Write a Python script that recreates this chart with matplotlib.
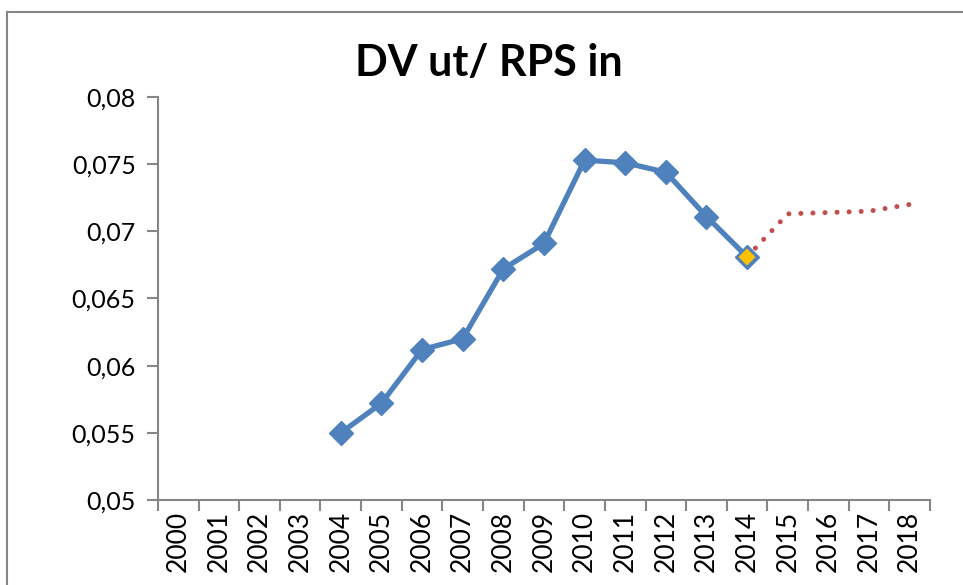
import matplotlib
matplotlib.use("Agg")
import numpy as np
from matplotlib import pyplot as plt
from matplotlib.lines import Line2D

# data
years = [str(y) for y in range(2000, 2019)]
actual_years = list(range(2004, 2015))
actual_values = [0.0550, 0.0572, 0.0612, 0.0620, 0.0672, 0.0691,
                 0.0753, 0.0751, 0.0744, 0.0711, 0.0681]
forecast_years = [2014, 2015, 2016, 2017, 2018]
forecast_values = [0.0681, 0.0713, 0.0714, 0.0715, 0.0720]
highlight_year = 2014
highlight_value = 0.0681
y_ticks = [0.05, 0.055, 0.06, 0.065, 0.07, 0.075, 0.08]

plt.rcParams["font.family"] = ["Lato", "DejaVu Sans"]
axis_color = "#868686"

fig = plt.figure(figsize=(9.63, 5.85), dpi=100)
ax = fig.add_axes([0.164, 0.1453, 0.8017, 0.6889])

x_actual = [years.index(str(y)) for y in actual_years]
x_forecast = [years.index(str(y)) for y in forecast_years]

ax.plot(x_forecast, forecast_values, color="#C0504D", linewidth=3.6,
        linestyle=(0, (0.01, 2.4)), dash_capstyle="round", zorder=2)
ax.plot(x_actual, actual_values, color="#4F81BD", linewidth=3.8,
        marker="D", markersize=12, zorder=3)
ax.plot([years.index(str(highlight_year))], [highlight_value], marker="D",
        markersize=10, markerfacecolor="#FFC000", markeredgecolor="#4F81BD",
        markeredgewidth=1.5, linestyle="none", zorder=4)

ax.set_xlim(-0.5, len(years) - 0.5)
ax.set_ylim(0.05, 0.08)
ax.set_yticks(y_ticks)
ax.set_yticklabels([f"{v:g}".replace(".", ",") for v in y_ticks])
ax.set_xticks(np.arange(-0.5, len(years)), labels=[""] * (len(years) + 1))
ax.set_xticks(np.arange(len(years)), labels=years, minor=True)
ax.tick_params(axis="x", which="minor", length=0, labelsize=19,
               rotation=90, pad=8)
ax.tick_params(axis="x", which="major", length=8, width=1.5, color=axis_color)
ax.tick_params(axis="y", length=8, width=1.5, color=axis_color,
               labelsize=18, pad=8)

for side in ["top", "right"]:
    ax.spines[side].set_visible(False)
for side in ["left", "bottom"]:
    ax.spines[side].set_color(axis_color)
    ax.spines[side].set_linewidth(1.5)

fig.text(0.508, 0.893, "DV ut/ RPS in", ha="center", va="center",
         fontsize=31, fontweight="bold")

# chart area border (only left and top edges are visible)
fig.add_artist(Line2D([0.0073, 0.0073], [0.0, 0.9795], color="#878787",
                      linewidth=1.5, transform=fig.transFigure))
fig.add_artist(Line2D([0.0073, 1.0], [0.9795, 0.9795], color="#878787",
                      linewidth=1.5, transform=fig.transFigure))

fig.savefig("out.png", dpi=100)
